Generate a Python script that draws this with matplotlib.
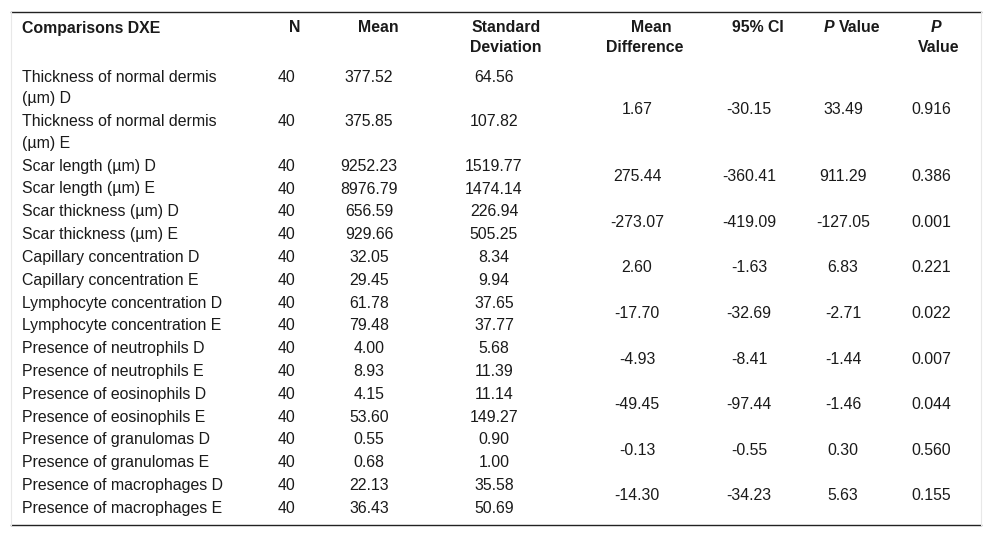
import textwrap
import matplotlib.pyplot as plt

plt.rcParams['font.family'] = ['Liberation Sans', 'DejaVu Sans']

# table data
labels = [
    'Thickness of normal dermis (µm) D', 'Thickness of normal dermis (µm) E',
    'Scar length (µm) D', 'Scar length (µm) E',
    'Scar thickness (µm) D', 'Scar thickness (µm) E',
    'Capillary concentration D', 'Capillary concentration E',
    'Lymphocyte concentration D', 'Lymphocyte concentration E',
    'Presence of neutrophils D', 'Presence of neutrophils E',
    'Presence of eosinophils D', 'Presence of eosinophils E',
    'Presence of granulomas D', 'Presence of granulomas E',
    'Presence of macrophages D', 'Presence of macrophages E',
]
n_vals = [40] * 18
means = [377.52, 375.85, 9252.23, 8976.79, 656.59, 929.66, 32.05, 29.45,
         61.78, 79.48, 4.00, 8.93, 4.15, 53.60, 0.55, 0.68, 22.13, 36.43]
sds = [64.56, 107.82, 1519.77, 1474.14, 226.94, 505.25, 8.34, 9.94,
       37.65, 37.77, 5.68, 11.39, 11.14, 149.27, 0.90, 1.00, 35.58, 50.69]

# one value per D/E pair
mean_diff = [1.67, 275.44, -273.07, 2.60, -17.70, -4.93, -49.45, -0.13, -14.30]
ci_low = [-30.15, -360.41, -419.09, -1.63, -32.69, -8.41, -97.44, -0.55, -34.23]
ci_high = [33.49, 911.29, -127.05, 6.83, -2.71, -1.44, -1.46, 0.30, 5.63]
p_values = [0.916, 0.386, 0.001, 0.221, 0.022, 0.007, 0.044, 0.560, 0.155]

W, H = 992, 537
fig = plt.figure(figsize=(W / 100, H / 100), dpi=100)
ax = fig.add_axes([0, 0, 1, 1])
ax.set_xlim(0, W)
ax.set_ylim(H, 0)
ax.axis('off')

fs = 11.4
col = '#1a1a1a'

# ---- header ----
ax.text(22, 28, 'Comparisons DXE', fontsize=fs, fontweight='bold', va='center', ha='left', color=col)
ax.text(295, 28, 'N', fontsize=fs, fontweight='bold', va='center', ha='center', color=col)
ax.text(378, 28, 'Mean', fontsize=fs, fontweight='bold', va='center', ha='center', color=col)
ax.text(506, 28, 'Standard', fontsize=fs, fontweight='bold', va='center', ha='center', color=col)
ax.text(506, 48, 'Deviation', fontsize=fs, fontweight='bold', va='center', ha='center', color=col)
ax.text(651, 28, 'Mean', fontsize=fs, fontweight='bold', va='center', ha='center', color=col)
ax.text(645, 48, 'Difference', fontsize=fs, fontweight='bold', va='center', ha='center', color=col)
ax.text(758, 28, '95% CI', fontsize=fs, fontweight='bold', va='center', ha='center', color=col)
ax.text(824, 28, 'P', fontsize=fs, fontweight='bold', style='italic', va='center', ha='left', color=col)
ax.text(839, 28, 'Value', fontsize=fs, fontweight='bold', va='center', ha='left', color=col)
ax.text(936, 28, 'P', fontsize=fs, fontweight='bold', style='italic', va='center', ha='center', color=col)
ax.text(939, 48, 'Value', fontsize=fs, fontweight='bold', va='center', ha='center', color=col)

# ---- body ----
line_h = 21.8
row_gap = 1.0
y = 77
row_centers = []
for i, lab in enumerate(labels):
    lines = textwrap.wrap(lab, 26)
    for k, ln in enumerate(lines):
        ax.text(22, y + k * line_h, ln, fontsize=fs, va='center', ha='left', color=col)
    ax.text(286, y, str(n_vals[i]), fontsize=fs, va='center', ha='center', color=col)
    ax.text(369, y, f'{means[i]:.2f}', fontsize=fs, va='center', ha='center', color=col)
    ax.text(494, y, f'{sds[i]:.2f}', fontsize=fs, va='center', ha='center', color=col)
    row_centers.append((y, y + (len(lines) - 1) * line_h))
    y += len(lines) * line_h + row_gap

for j in range(len(mean_diff)):
    top = row_centers[2 * j][0]
    bot = row_centers[2 * j + 1][1]
    ym = (top + bot) / 2 - 1
    ax.text(637, ym, f'{mean_diff[j]:.2f}', fontsize=fs, va='center', ha='center', color=col)
    ax.text(749, ym, f'{ci_low[j]:.2f}', fontsize=fs, va='center', ha='center', color=col)
    ax.text(843, ym, f'{ci_high[j]:.2f}', fontsize=fs, va='center', ha='center', color=col)
    ax.text(931, ym, f'{p_values[j]:.3f}', fontsize=fs, va='center', ha='center', color=col)

# rules
ax.plot([11, 981], [12, 12], color='#222222', lw=1.0)
ax.plot([11, 981], [525, 525], color='#222222', lw=1.0)
ax.plot([11, 11], [12, 525], color='#e8e8e8', lw=0.8)
ax.plot([981, 981], [12, 525], color='#e8e8e8', lw=0.8)

fig.savefig('out.png', dpi=100)
